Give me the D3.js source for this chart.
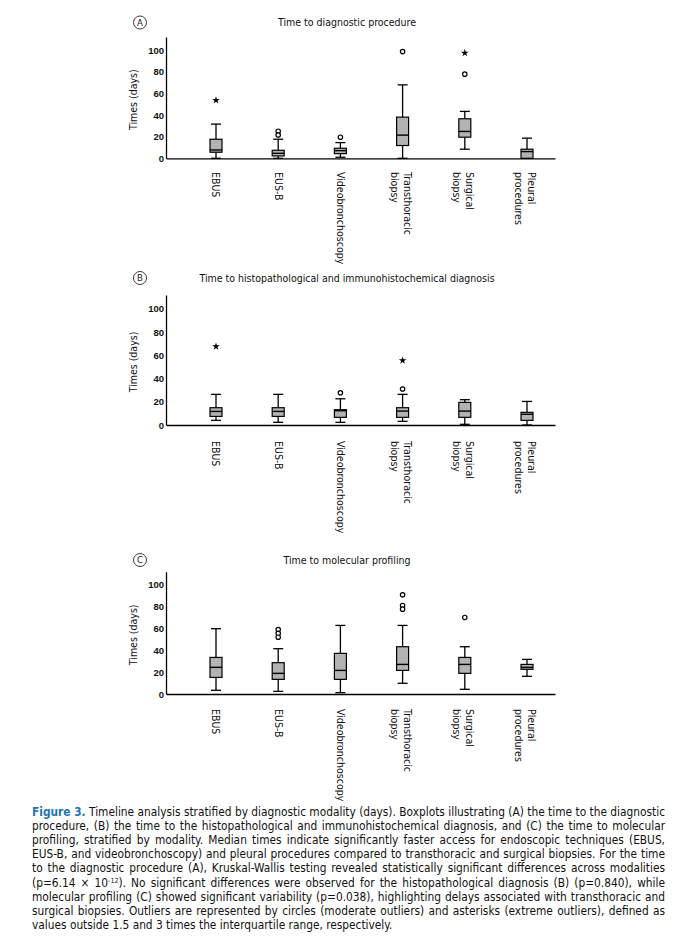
<!DOCTYPE html>
<html>
<head>
<meta charset="utf-8">
<script src="https://cdn.jsdelivr.net/npm/d3@7"></script>
<style>
  html, body { margin: 0; padding: 0; background: #fff; }
  #wrap { position: relative; width: 683px; height: 937px; overflow: hidden; }
  svg { position: absolute; left: 0; top: 0; }
  .cap { position: absolute; left: 32px; width: 633px; font-family: "DejaVu Sans Condensed", "DejaVu Sans", sans-serif;
         font-size: 11.8px; color: #111; text-align: justify; text-align-last: justify; white-space: nowrap; line-height: 14px; }
  .cap.last { text-align-last: left; }
  .cap b { color: #1f74b1; }
  .cap sup { font-size: 7px; vertical-align: 4px; line-height: 0; }
</style>
</head>
<body>
<div id="wrap"></div>
<script>
// ---------- data ----------
const categories = ["EBUS", "EUS-B", "Videobronchoscopy", "Transthoracic\nbiopsy", "Surgical\nbiopsy", "Pleural\nprocedures"];
const yTicks = [0, 20, 40, 60, 80, 100];
const panelTitles = ["Time to diagnostic procedure",
                     "Time to histopathological and immunohistochemical diagnosis",
                     "Time to molecular profiling"];
const panelLetters = ["A", "B", "C"];

// box stats: [lower whisker, Q1, median, Q3, upper whisker]
const boxesA = [[0, 5.6, 7.7, 17.6, 31.6], [0, 2.2, 4.6, 7.4, 17.6], [1, 4.3, 7.1, 9.3, 14.5],
                [0, 11.8, 21.4, 38, 67.8], [8.4, 19.5, 24.8, 36.5, 43.3], [0, 0, 6.2, 8.4, 18.6]];
const boxesB = [[4, 7.4, 11.7, 14.9, 26.4], [2.3, 7.4, 11.7, 14.9, 26.4], [2.3, 6.6, 12.3, 13.2, 22.6],
                [3.2, 6.6, 12, 14.9, 26.4], [0.6, 6.6, 12, 19.5, 21.8], [0, 4, 9.2, 10.9, 20.3]];
const boxesC = [[3.4, 15.2, 24.4, 33.5, 59.8], [2.4, 13.4, 18.9, 28.7, 41.5], [1.2, 13.4, 21.6, 37.2, 62.8],
                [9.8, 21.6, 27.1, 43.3, 62.8], [4.3, 18.9, 27.1, 33.5, 43.3], [16.2, 22.6, 24.4, 27.1, 31.7]];

// outliers: [category index, value, kind]  (o = moderate, * = extreme)
const outliersA = [[0, 53.6, "*"], [1, 25, "o"], [1, 21.5, "o"], [2, 19.5, "o"],
                   [3, 98.5, "o"], [4, 77.7, "o"], [4, 97.2, "*"]];
const outliersB = [[0, 67.6, "*"], [2, 27.8, "o"], [3, 31, "o"], [3, 55.6, "*"]];
const outliersC = [[1, 59, "o"], [1, 55.5, "o"], [1, 52, "o"],
                   [3, 90.9, "o"], [3, 81.1, "o"], [3, 77.7, "o"], [4, 70.1, "o"]];

const captionLines = [
  "<b>Figure 3.</b> Timeline analysis stratified by diagnostic modality (days). Boxplots illustrating (A) the time to the diagnostic",
  "procedure, (B) the time to the histopathological and immunohistochemical diagnosis, and (C) the time to molecular",
  "profiling, stratified by modality. Median times indicate significantly faster access for endoscopic techniques (EBUS,",
  "EUS-B, and videobronchoscopy) and pleural procedures compared to transthoracic and surgical biopsies. For the time",
  "to the diagnostic procedure (A), Kruskal-Wallis testing revealed statistically significant differences across modalities",
  "(p=6.14 × 10<sup>-12</sup>). No significant differences were observed for the histopathological diagnosis (B) (p=0.840), while",
  "molecular profiling (C) showed significant variability (p=0.038), highlighting delays associated with transthoracic and",
  "surgical biopsies. Outliers are represented by circles (moderate outliers) and asterisks (extreme outliers), defined as",
  "values outside 1.5 and 3 times the interquartile range, respectively."
];

// ---------- layout ----------
const W = 683, H = 937;
const panels = [
  { boxes: boxesA, outliers: outliersA, axisY: 158.3, axisTop: 37,    titleY: 22,  letterY: 22.5, labelY: 172 },
  { boxes: boxesB, outliers: outliersB, axisY: 425,   axisTop: 295,   titleY: 278, letterY: 278,  labelY: 441 },
  { boxes: boxesC, outliers: outliersC, axisY: 694,   axisTop: 571.7, titleY: 560, letterY: 560,  labelY: 709 }
];
const axisX = 166, axisRight = 555;
const font = '"DejaVu Sans Condensed", "DejaVu Sans", sans-serif';

const wrap = d3.select("#wrap");
const svg = wrap.append("svg").attr("width", W).attr("height", H);

const x = d3.scalePoint().domain(categories).range([216, 527]);
const boxW = 12, capW = 10;
const star = d3.symbol().type(d3.symbolStar).size(18);

panels.forEach((p, pi) => {
  const g = svg.append("g");
  const y = d3.scaleLinear().domain([0, 112]).range([p.axisY, p.axisTop]);

  // letter circle + title
  g.append("circle").attr("cx", 140).attr("cy", p.letterY).attr("r", 6.5)
    .attr("fill", "none").attr("stroke", "#222").attr("stroke-width", 0.9);
  g.append("text").attr("x", 140).attr("y", p.letterY).attr("dy", "0.36em")
    .attr("text-anchor", "middle").attr("font-family", font).attr("font-size", 9.5).attr("fill", "#222")
    .text(panelLetters[pi]);
  g.append("text").attr("x", 347).attr("y", p.titleY).attr("dy", "0.35em")
    .attr("text-anchor", "middle").attr("font-family", font).attr("font-size", 10.5).attr("fill", "#111")
    .text(panelTitles[pi]);

  // y axis
  const ya = g.append("g").attr("transform", `translate(${axisX},0)`)
    .call(d3.axisLeft(y).tickValues(yTicks).tickSize(0).tickSizeOuter(0).tickPadding(2));
  ya.select(".domain").attr("stroke", "#000").attr("stroke-width", 1.3);
  ya.selectAll("text").attr("font-family", '"Liberation Sans", Arial, sans-serif')
    .attr("font-weight", "bold").attr("font-size", 9.5).attr("fill", "#111");

  // x axis baseline
  const xf = d3.scaleLinear().range([axisX, axisRight]);
  const xa = g.append("g").attr("transform", `translate(0,${p.axisY})`)
    .call(d3.axisBottom(xf).tickValues([]).tickSizeOuter(0));
  xa.select(".domain").attr("stroke", "#000").attr("stroke-width", 1.3);

  // y label
  g.append("text").attr("transform", `translate(137,${(p.axisY + p.axisTop) / 2 + 2}) rotate(-90)`)
    .attr("text-anchor", "middle").attr("font-family", font).attr("font-size", 10.5).attr("fill", "#111")
    .text("Times (days)");

  // boxes
  const bg = g.selectAll("g.box").data(p.boxes).join("g").attr("class", "box")
    .attr("transform", (d, i) => `translate(${x(categories[i])},0)`);
  bg.append("line").attr("x1", 0).attr("x2", 0).attr("y1", d => y(d[0])).attr("y2", d => y(d[1]))
    .attr("stroke", "#000").attr("stroke-width", 1.3);
  bg.append("line").attr("x1", 0).attr("x2", 0).attr("y1", d => y(d[3])).attr("y2", d => y(d[4]))
    .attr("stroke", "#000").attr("stroke-width", 1.3);
  bg.append("line").attr("x1", -capW / 2).attr("x2", capW / 2).attr("y1", d => y(d[0])).attr("y2", d => y(d[0]))
    .attr("stroke", "#000").attr("stroke-width", 1.3);
  bg.append("line").attr("x1", -capW / 2).attr("x2", capW / 2).attr("y1", d => y(d[4])).attr("y2", d => y(d[4]))
    .attr("stroke", "#000").attr("stroke-width", 1.3);
  bg.append("rect").attr("x", -boxW / 2).attr("width", boxW)
    .attr("y", d => y(d[3])).attr("height", d => Math.max(0, y(d[1]) - y(d[3])))
    .attr("fill", "#b3b3b3").attr("stroke", "#000").attr("stroke-width", 1.2);
  bg.append("line").attr("x1", -boxW / 2).attr("x2", boxW / 2).attr("y1", d => y(d[2])).attr("y2", d => y(d[2]))
    .attr("stroke", "#000").attr("stroke-width", 1.4);

  // outliers
  p.outliers.forEach(o => {
    const cx = x(categories[o[0]]), cy = y(o[1]);
    if (o[2] === "o") {
      g.append("circle").attr("cx", cx).attr("cy", cy).attr("r", 2.2)
        .attr("fill", "#fff").attr("stroke", "#000").attr("stroke-width", 1.2);
    } else {
      g.append("path").attr("d", star).attr("transform", `translate(${cx},${cy})`).attr("fill", "#000");
    }
  });

  // category labels (rotated)
  categories.forEach(c => {
    const lines = c.split("\n");
    const t = g.append("text").attr("transform", `translate(${x(c)},${p.labelY}) rotate(90)`)
      .attr("text-anchor", "start").attr("font-family", font).attr("font-size", 10.5).attr("fill", "#111");
    lines.forEach((ln, li) => {
      const off = (li - (lines.length - 1) / 2) * 13 + (lines.length > 1 ? 1.5 : 0);
      t.append("tspan").attr("x", 0).attr("y", off).attr("dy", "0.35em").text(ln);
    });
  });
});

// caption
captionLines.forEach((ln, i) => {
  wrap.append("div").attr("class", "cap" + (i === captionLines.length - 1 ? " last" : ""))
    .style("top", (805 + i * 14.1) + "px").html(ln);
});
</script>
</body>
</html>
